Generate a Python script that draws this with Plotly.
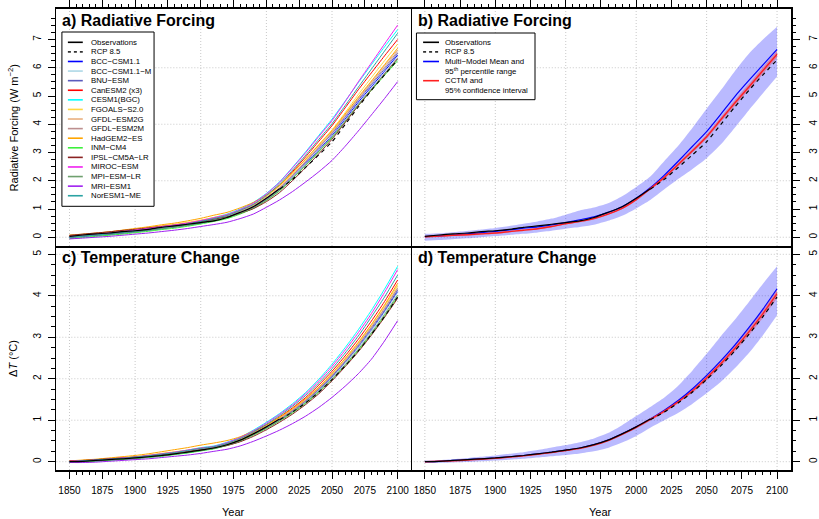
import plotly.graph_objects as go

W, H = 819, 519
FONT = "Liberation Sans"

# ---------------- data ----------------
years = [1850, 1860, 1870, 1880, 1890, 1900, 1910, 1920, 1930, 1940, 1950, 1960, 1970,
         1980, 1990, 2000, 2010, 2020, 2030, 2040, 2050, 2060, 2070, 2080, 2090, 2100]
years_obs = [1850, 1860, 1870, 1880, 1890, 1900, 1910, 1920, 1930, 1940, 1950, 1960, 1970,
             1980, 1990, 2000, 2010]
years_rcp = [2010, 2020, 2030, 2040, 2050, 2060, 2070, 2080, 2090, 2100]

model_names = ["BCC\u2212CSM1.1", "BCC\u2212CSM1.1\u2212M", "BNU\u2212ESM", "CanESM2 (x3)", "CESM1(BGC)",
               "FGOALS\u2212S2.0", "GFDL\u2212ESM2G", "GFDL\u2212ESM2M", "HadGEM2\u2212ES", "INM\u2212CM4",
               "IPSL\u2212CM5A\u2212LR", "MIROC\u2212ESM", "MPI\u2212ESM\u2212LR", "MRI\u2212ESM1", "NorESM1\u2212ME"]
model_colors = ["#0000FF", "#ADD8E6", "#5B5BBD", "#FF0000", "#00FFFF", "#FFD740", "#E9B07F", "#BC8F8F",
                "#FFA500", "#3CF03C", "#8B2323", "#F020F0", "#6FA06F", "#A020F0", "#2BA3A3"]

# Radiative forcing (W m-2), panel a
rf_bcc_csm11 = [0.00,0.04,0.07,0.10,0.15,0.19,0.25,0.30,0.36,0.42,0.50,0.60,0.70,0.86,1.05,1.33,1.68,2.13,2.60,3.10,3.60,4.18,4.78,5.33,5.88,6.45]
rf_bcc_csm11m = [0.03,0.06,0.09,0.13,0.17,0.22,0.27,0.33,0.38,0.45,0.53,0.62,0.72,0.87,1.06,1.34,1.68,2.12,2.58,3.07,3.57,4.13,4.72,5.27,5.83,6.39]
rf_bnu_esm = [-0.02,0.02,0.06,0.10,0.14,0.19,0.24,0.30,0.36,0.43,0.51,0.61,0.71,0.87,1.07,1.36,1.72,2.18,2.66,3.17,3.67,4.25,4.85,5.40,5.95,6.51]
rf_canesm2 = [0.05,0.08,0.12,0.15,0.20,0.25,0.30,0.36,0.41,0.48,0.56,0.66,0.77,0.94,1.15,1.45,1.83,2.33,2.85,3.40,3.95,4.58,5.22,5.82,6.42,7.00]
rf_cesm1_bgc = [0.02,0.06,0.10,0.14,0.19,0.24,0.30,0.36,0.42,0.50,0.59,0.70,0.82,1.00,1.23,1.55,1.96,2.48,3.03,3.61,4.18,4.82,5.47,6.11,6.74,7.35]
rf_fgoals_s2 = [0.08,0.11,0.15,0.19,0.24,0.29,0.35,0.41,0.46,0.53,0.61,0.70,0.80,0.96,1.16,1.45,1.81,2.27,2.77,3.29,3.80,4.41,5.05,5.65,6.25,6.84]
rf_gfdl_esm2g = [0.06,0.10,0.14,0.18,0.22,0.27,0.33,0.39,0.44,0.51,0.59,0.68,0.78,0.93,1.12,1.40,1.76,2.22,2.71,3.22,3.73,4.33,4.93,5.50,6.07,6.63]
rf_gfdl_esm2m = [0.04,0.08,0.11,0.14,0.19,0.24,0.30,0.36,0.41,0.48,0.56,0.66,0.76,0.91,1.10,1.38,1.74,2.19,2.68,3.18,3.69,4.28,4.88,5.45,6.01,6.57]
rf_hadgem2_es = [0.06,0.10,0.14,0.19,0.25,0.31,0.37,0.44,0.50,0.58,0.67,0.78,0.88,1.04,1.23,1.50,1.85,2.29,2.77,3.27,3.77,4.36,4.96,5.53,6.11,6.69]
rf_inm_cm4 = [-0.05,-0.01,0.03,0.07,0.11,0.16,0.21,0.27,0.32,0.39,0.47,0.56,0.66,0.82,1.02,1.30,1.64,2.08,2.54,3.03,3.52,4.08,4.66,5.20,5.73,6.25]
rf_ipsl_cm5a_lr = [0.07,0.11,0.15,0.19,0.24,0.28,0.33,0.38,0.43,0.49,0.56,0.64,0.72,0.85,1.01,1.26,1.58,2.01,2.47,2.96,3.47,4.06,4.66,5.22,5.78,6.33]
rf_miroc_esm = [0.03,0.07,0.11,0.15,0.20,0.25,0.31,0.37,0.43,0.50,0.59,0.69,0.80,0.98,1.20,1.53,1.94,2.46,3.00,3.57,4.13,4.80,5.50,6.17,6.84,7.51]
rf_mpi_esm_lr = [0.01,0.05,0.08,0.12,0.16,0.21,0.26,0.31,0.37,0.43,0.51,0.60,0.70,0.85,1.04,1.32,1.66,2.10,2.56,3.05,3.55,4.11,4.70,5.24,5.77,6.30]
rf_mri_esm1 = [-0.06,-0.03,0.00,0.03,0.07,0.11,0.15,0.20,0.25,0.31,0.38,0.45,0.53,0.66,0.82,1.06,1.32,1.62,1.96,2.32,2.72,3.22,3.76,4.33,4.91,5.51]
rf_noresm1_me = [0.00,0.04,0.08,0.12,0.17,0.22,0.28,0.34,0.40,0.47,0.56,0.66,0.77,0.95,1.16,1.48,1.88,2.38,2.91,3.47,4.02,4.66,5.31,5.95,6.59,7.22]

rf_obs = [0.03,0.08,0.12,0.15,0.20,0.23,0.28,0.35,0.40,0.46,0.52,0.58,0.70,0.88,1.08,1.38,1.72]
rf_rcp85 = [1.70,2.05,2.48,2.92,3.38,3.99,4.61,5.20,5.75,6.28]

# Radiative forcing, panel b
rf_mmm = [0.02,0.05,0.08,0.12,0.16,0.21,0.26,0.32,0.37,0.44,0.52,0.62,0.72,0.88,1.08,1.38,1.75,2.20,2.70,3.22,3.74,4.35,4.98,5.55,6.10,6.65]
rf_mmm_hi = [0.12,0.14,0.18,0.22,0.27,0.33,0.40,0.48,0.56,0.66,0.80,0.95,1.05,1.20,1.45,1.78,2.15,2.70,3.25,3.88,4.55,5.20,5.88,6.50,7.00,7.45]
rf_mmm_lo = [-0.12,-0.10,-0.07,-0.04,0.00,0.04,0.08,0.12,0.17,0.23,0.30,0.36,0.44,0.58,0.76,1.02,1.32,1.70,2.07,2.42,2.80,3.28,3.88,4.50,5.10,5.69]
rf_cctm = [0.02,0.04,0.07,0.09,0.12,0.15,0.20,0.25,0.30,0.38,0.48,0.56,0.66,0.82,1.02,1.33,1.72,2.12,2.58,3.06,3.56,4.16,4.75,5.32,5.90,6.48]
rf_cctm_hi = [0.05,0.07,0.10,0.12,0.15,0.18,0.23,0.28,0.33,0.41,0.51,0.59,0.69,0.85,1.05,1.37,1.77,2.18,2.65,3.13,3.64,4.25,4.85,5.43,6.02,6.61]
rf_cctm_lo = [-0.01,0.01,0.04,0.06,0.09,0.12,0.17,0.22,0.27,0.35,0.45,0.53,0.63,0.79,0.99,1.29,1.67,2.06,2.51,2.99,3.48,4.07,4.65,5.21,5.78,6.35]

# Temperature change (deg C), panel c
dt_bcc_csm11 = [0.00,0.01,0.02,0.04,0.06,0.08,0.11,0.14,0.18,0.22,0.27,0.32,0.40,0.51,0.66,0.83,1.01,1.22,1.45,1.73,2.04,2.39,2.76,3.17,3.62,4.10]
dt_bcc_csm11m = [0.01,0.02,0.04,0.06,0.08,0.10,0.13,0.16,0.20,0.24,0.29,0.34,0.42,0.52,0.66,0.83,1.01,1.21,1.45,1.72,2.03,2.38,2.75,3.16,3.60,4.08]
dt_bnu_esm = [-0.01,0.00,0.02,0.04,0.06,0.08,0.11,0.14,0.18,0.22,0.27,0.32,0.40,0.52,0.67,0.84,1.02,1.23,1.47,1.75,2.06,2.41,2.79,3.21,3.65,4.14]
dt_canesm2 = [0.00,0.02,0.04,0.06,0.08,0.10,0.13,0.17,0.21,0.25,0.30,0.36,0.44,0.55,0.70,0.88,1.08,1.30,1.55,1.85,2.18,2.55,2.95,3.39,3.86,4.38]
dt_cesm1_bgc = [0.01,0.02,0.04,0.06,0.09,0.12,0.15,0.19,0.23,0.28,0.34,0.38,0.47,0.59,0.76,0.95,1.16,1.40,1.67,1.99,2.35,2.75,3.18,3.65,4.16,4.71]
dt_fgoals_s2 = [0.02,0.03,0.05,0.07,0.10,0.12,0.16,0.20,0.24,0.28,0.33,0.36,0.44,0.54,0.69,0.86,1.05,1.26,1.51,1.79,2.12,2.48,2.86,3.29,3.75,4.25]
dt_gfdl_esm2g = [0.01,0.03,0.05,0.07,0.09,0.12,0.15,0.19,0.23,0.27,0.32,0.35,0.43,0.53,0.68,0.85,1.04,1.25,1.49,1.77,2.09,2.45,2.83,3.25,3.71,4.20]
dt_gfdl_esm2m = [0.00,0.02,0.04,0.06,0.08,0.11,0.14,0.18,0.22,0.26,0.31,0.34,0.42,0.52,0.67,0.84,1.03,1.24,1.48,1.76,2.08,2.43,2.82,3.24,3.69,4.18]
dt_hadgem2_es = [0.02,0.04,0.06,0.09,0.12,0.15,0.19,0.24,0.29,0.34,0.40,0.45,0.51,0.60,0.74,0.89,1.07,1.28,1.52,1.80,2.13,2.49,2.88,3.31,3.78,4.30]
dt_inm_cm4 = [-0.02,-0.01,0.01,0.03,0.05,0.07,0.10,0.13,0.17,0.21,0.26,0.31,0.39,0.49,0.64,0.80,0.98,1.18,1.41,1.68,1.98,2.32,2.68,3.08,3.51,3.98]
dt_ipsl_cm5a_lr = [0.02,0.03,0.05,0.07,0.09,0.11,0.14,0.17,0.20,0.24,0.28,0.33,0.39,0.48,0.61,0.77,0.95,1.15,1.38,1.64,1.95,2.29,2.65,3.05,3.48,3.94]
dt_miroc_esm = [0.01,0.02,0.04,0.06,0.09,0.11,0.15,0.19,0.23,0.28,0.33,0.37,0.46,0.58,0.74,0.93,1.14,1.37,1.64,1.95,2.30,2.69,3.11,3.57,4.08,4.63]
dt_mpi_esm_lr = [0.00,0.01,0.03,0.05,0.07,0.09,0.12,0.15,0.19,0.23,0.28,0.32,0.40,0.50,0.65,0.81,0.99,1.20,1.43,1.70,2.00,2.34,2.71,3.11,3.55,4.02]
dt_mri_esm1 = [-0.02,-0.02,-0.01,0.01,0.03,0.05,0.07,0.10,0.13,0.16,0.20,0.25,0.30,0.38,0.49,0.62,0.76,0.92,1.10,1.31,1.55,1.82,2.12,2.47,2.91,3.40]
dt_noresm1_me = [0.00,0.02,0.04,0.06,0.08,0.11,0.14,0.18,0.22,0.27,0.32,0.36,0.44,0.56,0.72,0.90,1.11,1.34,1.60,1.90,2.24,2.62,3.03,3.49,3.97,4.50]

dt_obs = [0.00,0.01,0.03,0.05,0.07,0.09,0.12,0.15,0.19,0.23,0.28,0.33,0.41,0.52,0.67,0.84,1.03]
dt_rcp85 = [1.01,1.20,1.42,1.68,1.98,2.31,2.67,3.07,3.50,3.97]

# Temperature change, panel d
dt_mmm = [0.00,0.01,0.03,0.05,0.07,0.09,0.12,0.15,0.19,0.23,0.28,0.33,0.41,0.52,0.67,0.84,1.03,1.24,1.48,1.76,2.08,2.43,2.81,3.23,3.68,4.17]
dt_mmm_hi = [0.03,0.04,0.06,0.09,0.12,0.15,0.19,0.23,0.28,0.34,0.40,0.47,0.56,0.69,0.88,1.10,1.32,1.55,1.84,2.20,2.60,3.02,3.42,3.85,4.29,4.71]
dt_mmm_lo = [-0.03,-0.03,-0.02,-0.01,0.01,0.03,0.05,0.07,0.10,0.13,0.16,0.20,0.25,0.33,0.46,0.62,0.82,1.00,1.18,1.40,1.65,1.92,2.25,2.62,3.05,3.53]
dt_cctm = [0.00,0.01,0.02,0.04,0.06,0.08,0.11,0.14,0.18,0.22,0.27,0.32,0.40,0.51,0.66,0.83,1.02,1.22,1.45,1.71,2.02,2.36,2.73,3.13,3.57,4.05]
dt_cctm_hi = [0.01,0.02,0.03,0.05,0.07,0.09,0.12,0.15,0.19,0.23,0.28,0.34,0.42,0.53,0.68,0.86,1.05,1.26,1.49,1.76,2.08,2.43,2.81,3.22,3.67,4.16]
dt_cctm_lo = [-0.01,0.00,0.01,0.03,0.05,0.07,0.10,0.13,0.17,0.21,0.26,0.30,0.38,0.49,0.64,0.80,0.99,1.18,1.41,1.66,1.96,2.29,2.65,3.04,3.47,3.94]

rf_models = [rf_bcc_csm11, rf_bcc_csm11m, rf_bnu_esm, rf_canesm2, rf_cesm1_bgc, rf_fgoals_s2, rf_gfdl_esm2g,
             rf_gfdl_esm2m, rf_hadgem2_es, rf_inm_cm4, rf_ipsl_cm5a_lr, rf_miroc_esm, rf_mpi_esm_lr,
             rf_mri_esm1, rf_noresm1_me]
dt_models = [dt_bcc_csm11, dt_bcc_csm11m, dt_bnu_esm, dt_canesm2, dt_cesm1_bgc, dt_fgoals_s2, dt_gfdl_esm2g,
             dt_gfdl_esm2m, dt_hadgem2_es, dt_inm_cm4, dt_ipsl_cm5a_lr, dt_miroc_esm, dt_mpi_esm_lr,
             dt_mri_esm1, dt_noresm1_me]

x_major = [1850, 1875, 1900, 1925, 1950, 1975, 2000, 2025, 2050, 2075, 2100]
x_labels = ["1850", "1875", "1900", "1925", "1950", "1975", "2000", "2025", "2050", "2075", "2100"]
x_grid = [1850, 1900, 1950, 2000, 2050, 2100]
rf_ticks = [0, 1, 2, 3, 4, 5, 6, 7]
rf_grid = [0, 2, 4, 6]
dt_ticks = [0, 1, 2, 3, 4, 5]
dt_grid = [0, 1, 2, 3, 4, 5]

legend_a = ["Observations", "RCP 8.5"] + model_names
legend_b = ["Observations", "RCP 8.5", "Multi\u2212Model Mean and", "95<sup>th</sup> percentile range",
            "CCTM and", "95% confidence interval"]

# ---------------- layout geometry (pixels) ----------------
XL, XM, XR = 56.7, 413.3, 796.0
YT, YM, YB = 9.0, 246.0, 470.0
X_RANGE = [1840, 2110]
RF_RANGE = [-0.31, 8.08]
DT_RANGE = [-0.2, 5.2]


def px(xp):
    return xp / W


def py(yp):
    return 1 - yp / H


fig = go.Figure()

BAND_BLUE = "rgba(0,0,255,0.27)"
BAND_RED = "rgba(255,0,0,0.28)"


def line(x, y, color, xa, ya, width=1.0, dash=None):
    fig.add_trace(go.Scatter(x=x, y=y, mode="lines", xaxis=xa, yaxis=ya,
                             line=dict(color=color, width=width, dash=dash, shape="spline", smoothing=0.6),
                             hoverinfo="skip"))


def band(x, lo, hi, color, xa, ya):
    fig.add_trace(go.Scatter(x=x, y=lo, mode="lines", xaxis=xa, yaxis=ya,
                             line=dict(width=0, color=color, shape="spline", smoothing=0.6), hoverinfo="skip"))
    fig.add_trace(go.Scatter(x=x, y=hi, mode="lines", xaxis=xa, yaxis=ya, fill="tonexty",
                             fillcolor=color, line=dict(width=0, color=color, shape="spline", smoothing=0.6),
                             hoverinfo="skip"))


# panel a / c: individual models
for vals, col in zip(rf_models, model_colors):
    line(years, vals, col, "x", "y")
line(years_obs, rf_obs, "black", "x", "y", 1.2)
line(years_rcp, rf_rcp85, "black", "x", "y", 1.1, "4px,4px")

for vals, col in zip(dt_models, model_colors):
    line(years, vals, col, "x3", "y3")
line(years_obs, dt_obs, "black", "x3", "y3", 1.2)
line(years_rcp, dt_rcp85, "black", "x3", "y3", 1.1, "4px,4px")

# panel b / d: multi-model mean and CCTM
band(years, rf_mmm_lo, rf_mmm_hi, BAND_BLUE, "x2", "y2")
band(years, rf_cctm_lo, rf_cctm_hi, BAND_RED, "x2", "y2")
line(years, rf_mmm, "#0000FF", "x2", "y2", 1.2)
line(years, rf_cctm, "#FF2020", "x2", "y2", 1.4)
line(years_obs, rf_obs, "black", "x2", "y2", 1.2)
line(years_rcp, rf_rcp85, "black", "x2", "y2", 1.2, "4px,4px")

band(years, dt_mmm_lo, dt_mmm_hi, BAND_BLUE, "x4", "y4")
band(years, dt_cctm_lo, dt_cctm_hi, BAND_RED, "x4", "y4")
line(years, dt_mmm, "#0000FF", "x4", "y4", 1.2)
line(years, dt_cctm, "#FF2020", "x4", "y4", 1.4)
line(years_obs, dt_obs, "black", "x4", "y4", 1.2)
line(years_rcp, dt_rcp85, "black", "x4", "y4", 1.2, "4px,4px")

# grid lines (dotted, below data)
GRID = dict(color="#C8C8C8", width=1, dash="1px,2px")
for xa, ya, ygrid in [("x", "y", rf_grid), ("x2", "y2", rf_grid), ("x3", "y3", dt_grid), ("x4", "y4", dt_grid)]:
    for g in x_grid:
        fig.add_shape(type="line", xref=xa, yref=ya + " domain", x0=g, x1=g, y0=0, y1=1, line=GRID, layer="below")
    for g in ygrid:
        fig.add_shape(type="line", xref=xa + " domain", yref=ya, x0=0, x1=1, y0=g, y1=g, line=GRID, layer="below")

TICKFONT = dict(family=FONT, size=10, color="black")
x_minor = list(range(1850, 2101, 5))
rf_minor = [i * 0.25 for i in range(0, 32)]
dt_minor = [i * 0.25 for i in range(0, 21)]
LW = 1.7


def xaxis(domain, anchor, side, labels, mirror):
    return dict(domain=domain, anchor=anchor, side=side, range=X_RANGE, tickmode="array",
                tickvals=x_major, ticktext=x_labels, showticklabels=labels, ticks="outside",
                ticklen=7, tickwidth=1, tickcolor="black", tickfont=TICKFONT, ticklabelstandoff=3,
                minor=dict(tickmode="array", tickvals=x_minor, ticks="outside", ticklen=3.5,
                           tickwidth=1, tickcolor="black"),
                showline=True, linecolor="black", linewidth=LW, mirror=mirror,
                showgrid=False, zeroline=False, fixedrange=True)


def yaxis(domain, anchor, side, rng, ticks, minor, mirror, standoff):
    return dict(domain=domain, anchor=anchor, side=side, range=rng, tickmode="array",
                tickvals=ticks, ticktext=[str(t) for t in ticks], ticks="outside", ticklen=7,
                tickwidth=1, tickcolor="black", tickfont=TICKFONT, tickangle=-90,
                ticklabelstandoff=standoff,
                minor=dict(tickmode="array", tickvals=minor, ticks="outside", ticklen=3.5,
                           tickwidth=1, tickcolor="black"),
                showline=True, linecolor="black", linewidth=LW, mirror=mirror,
                showgrid=False, zeroline=False, fixedrange=True)


dl = [px(XL), px(XM)]
dr = [px(XM), px(XR)]
dtop = [py(YM), py(YT)]
dbot = [py(YB), py(YM)]

fig.update_layout(
    width=W, height=H, margin=dict(l=0, r=0, t=0, b=0),
    paper_bgcolor="white", plot_bgcolor="white", showlegend=False,
    font=dict(family=FONT, color="black"),
    xaxis=xaxis(dl, "y", "top", False, True),
    yaxis=yaxis(dtop, "x", "left", RF_RANGE, rf_ticks, rf_minor, True, 3),
    xaxis2=xaxis(dr, "y2", "top", False, True),
    yaxis2=yaxis(dtop, "x2", "right", RF_RANGE, rf_ticks, rf_minor, False, 5),
    xaxis3=xaxis(dl, "y3", "bottom", True, False),
    yaxis3=yaxis(dbot, "x3", "left", DT_RANGE, dt_ticks, dt_minor, True, 3),
    xaxis4=xaxis(dr, "y4", "bottom", True, False),
    yaxis4=yaxis(dbot, "x4", "right", DT_RANGE, dt_ticks, dt_minor, False, 5),
)

ann = []
TITLE = dict(family=FONT, size=16, color="black")
for text, xp, yp in [("<b>a) Radiative Forcing</b>", XL + 4, YT + 11),
                     ("<b>b) Radiative Forcing</b>", XM + 5, YT + 11),
                     ("<b>c) Temperature Change</b>", XL + 4, YM + 11),
                     ("<b>d) Temperature Change</b>", XM + 5, YM + 11)]:
    ann.append(dict(text=text, x=px(xp), y=py(yp), xref="paper", yref="paper", xanchor="left",
                    yanchor="middle", showarrow=False, font=TITLE))

AX = dict(family=FONT, size=11, color="black")
ann.append(dict(text="Radiative Forcing (W m<sup>\u22122</sup>)", x=px(13), y=py((YT + YM) / 2),
                xref="paper", yref="paper", xanchor="center", yanchor="middle", textangle=-90,
                showarrow=False, font=AX))
ann.append(dict(text="\u0394<i>T</i> (\u00b0C)", x=px(13), y=py((YM + YB) / 2),
                xref="paper", yref="paper", xanchor="center", yanchor="middle", textangle=-90,
                showarrow=False, font=AX))
ann.append(dict(text="Year", x=px((XL + XM) / 2), y=py(512), xref="paper", yref="paper",
                xanchor="center", yanchor="middle", showarrow=False, font=AX))
ann.append(dict(text="Year", x=px((XM + XR) / 2), y=py(512), xref="paper", yref="paper",
                xanchor="center", yanchor="middle", showarrow=False, font=AX))

LEGFONT = dict(family=FONT, size=7.8, color="black")

# legend a
LA_BOX = (62.3, 32.0, 155.0, 206.3)
LA_Y0, LA_DY = 42.3, 9.59
LA_L0, LA_L1, LA_T = 68.3, 83.3, 89.5
fig.add_shape(type="rect", xref="paper", yref="paper", x0=px(LA_BOX[0]), x1=px(LA_BOX[2]),
              y0=py(LA_BOX[3]), y1=py(LA_BOX[1]), line=dict(color="black", width=1), fillcolor="white")
leg_a_colors = ["black", "#333333"] + model_colors
leg_a_dash = [None, "3px,3px"] + [None] * len(model_colors)
for i, (name, col, dsh) in enumerate(zip(legend_a, leg_a_colors, leg_a_dash)):
    yy = LA_Y0 + i * LA_DY
    fig.add_shape(type="line", xref="paper", yref="paper", x0=px(LA_L0), x1=px(LA_L1), y0=py(yy), y1=py(yy),
                  line=dict(color=col, width=1.6, dash=dsh))
    ann.append(dict(text=name, x=px(LA_T), y=py(yy), xref="paper", yref="paper", xanchor="left",
                    yanchor="middle", showarrow=False, font=LEGFONT))

# legend b
LB_BOX = (419.0, 33.0, 538.3, 99.7)
LB_Y0, LB_DY = 42.3, 9.6
LB_L0, LB_L1, LB_T = 425.7, 441.7, 446.2
fig.add_shape(type="rect", xref="paper", yref="paper", x0=px(LB_BOX[0]), x1=px(LB_BOX[2]),
              y0=py(LB_BOX[3]), y1=py(LB_BOX[1]), line=dict(color="black", width=1), fillcolor="white")
leg_b_lines = {0: ("black", None), 1: ("#333333", "3px,3px"), 2: ("#0000FF", None), 4: ("#FF2020", None)}
for i, name in enumerate(legend_b):
    yy = LB_Y0 + i * LB_DY
    if i in leg_b_lines:
        col, dsh = leg_b_lines[i]
        fig.add_shape(type="line", xref="paper", yref="paper", x0=px(LB_L0), x1=px(LB_L1), y0=py(yy), y1=py(yy),
                      line=dict(color=col, width=1.6, dash=dsh))
    ann.append(dict(text=name, x=px(LB_T), y=py(yy), xref="paper", yref="paper", xanchor="left",
                    yanchor="middle", showarrow=False, font=LEGFONT))

fig.update_layout(annotations=ann)
fig.write_html("out.html", config={"displayModeBar": False, "staticPlot": True},
               post_script="document.body.style.margin='0';document.body.style.overflow='hidden';")
